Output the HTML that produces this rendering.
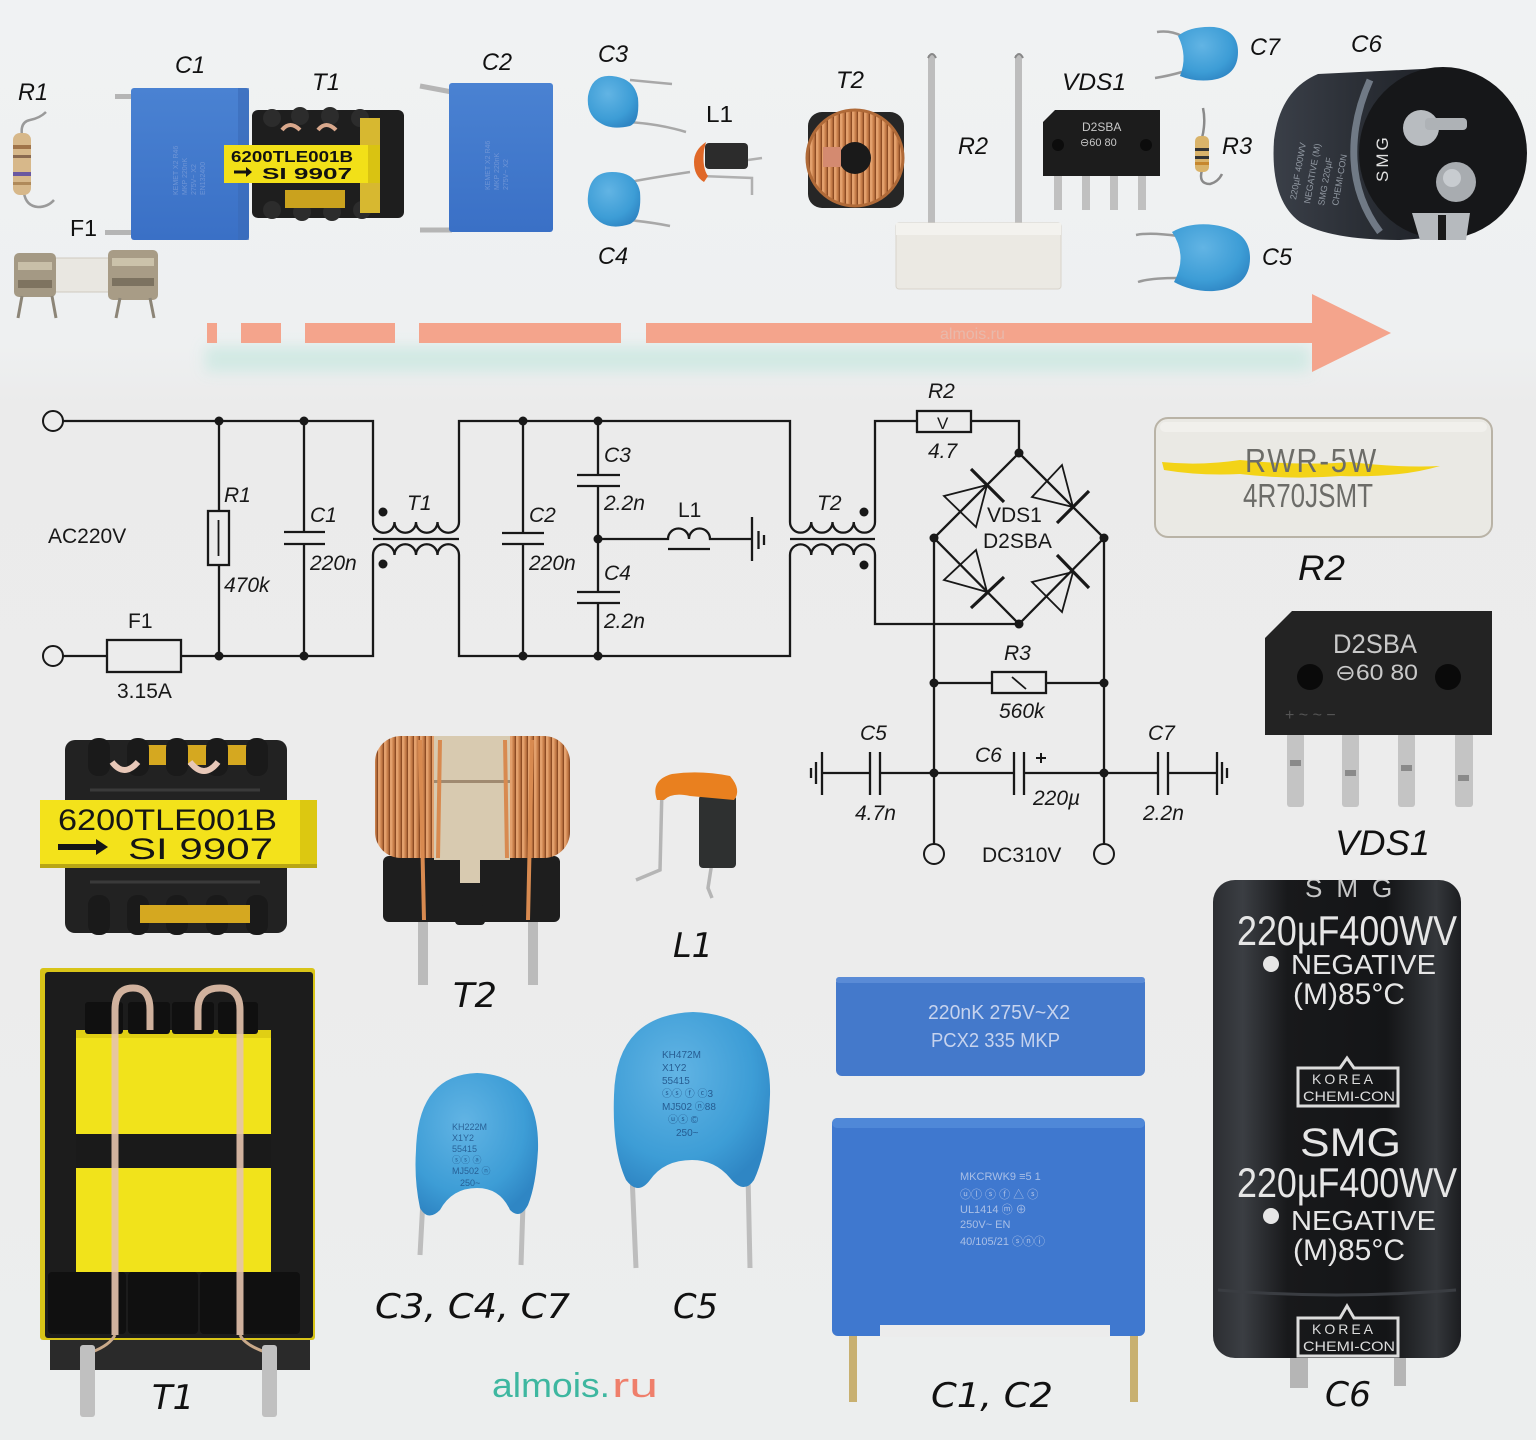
<!DOCTYPE html>
<html><head><meta charset="utf-8">
<style>
html,body{margin:0;padding:0;background:#ececec;}
svg{display:block;}
text{font-family:"Liberation Sans",Arial,sans-serif;}
.s{stroke:#181818;stroke-width:2.3;fill:none;}
.d{fill:#181818;}
.sl{font-size:21px;fill:#181818;}
.si{font-size:21px;fill:#181818;font-style:italic;}
.tl{font-size:24px;fill:#111;font-style:italic;}
.tu{font-size:23px;fill:#111;}
.bl{font-family:"DejaVu Sans","Liberation Sans",sans-serif;font-size:34px;fill:#111;font-style:italic;}
.bla{font-size:35px;fill:#111;font-style:italic;}
.w{fill:#e6e6e6;font-family:"Liberation Sans Narrow","Liberation Sans",sans-serif;}
</style></head><body>
<svg width="1536" height="1440" viewBox="0 0 1536 1440" xmlns="http://www.w3.org/2000/svg">
<defs>
<linearGradient id="bg" x1="0" y1="0" x2="0" y2="1">
 <stop offset="0" stop-color="#f0f2f3"/>
 <stop offset="0.24" stop-color="#eef0f1"/>
 <stop offset="0.28" stop-color="#ebebeb"/>
 <stop offset="0.6" stop-color="#ececec"/>
 <stop offset="1" stop-color="#eceeee"/>
</linearGradient>
<filter id="blur" x="-10%" y="-100%" width="120%" height="300%"><feGaussianBlur stdDeviation="7"/></filter>
<filter id="blur2"><feGaussianBlur stdDeviation="1.2"/></filter>
<radialGradient id="blue" cx="0.4" cy="0.35" r="0.7">
 <stop offset="0" stop-color="#62b4e4"/>
 <stop offset="0.7" stop-color="#3d9dd6"/>
 <stop offset="1" stop-color="#2f86c4"/>
</radialGradient>
<linearGradient id="capblue" x1="0" y1="0" x2="0" y2="1">
 <stop offset="0" stop-color="#4a82d2"/>
 <stop offset="1" stop-color="#3a70c6"/>
</linearGradient>
<linearGradient id="c6g" x1="0" y1="0" x2="1" y2="0">
 <stop offset="0" stop-color="#2c2e32"/>
 <stop offset="0.12" stop-color="#3b3e43"/>
 <stop offset="0.3" stop-color="#18191b"/>
 <stop offset="0.7" stop-color="#141517"/>
 <stop offset="0.9" stop-color="#34373b"/>
 <stop offset="1" stop-color="#1c1d20"/>
</linearGradient>
<linearGradient id="c6t" x1="0" y1="0" x2="1" y2="0">
 <stop offset="0" stop-color="#3a3f48"/>
 <stop offset="0.5" stop-color="#2b2f36"/>
 <stop offset="1" stop-color="#1e2127"/>
</linearGradient>
<pattern id="cu" width="6" height="10" patternUnits="userSpaceOnUse">
 <rect width="6" height="10" fill="#c77e4a"/>
 <rect x="0" width="2.5" height="10" fill="#e3a06c"/>
 <rect x="4.6" width="1.4" height="10" fill="#8d4c24"/>
</pattern>
</defs>

<rect width="1536" height="1440" fill="url(#bg)"/>

<!-- ============ TOP PHOTO STRIP ============ -->
<!-- R1 -->
<path d="M22 135 Q20 122 30 120 Q40 118 46 112" stroke="#9a9a9a" stroke-width="2.5" fill="none"/>
<path d="M24 193 Q26 206 38 207 Q48 207 54 200" stroke="#9a9a9a" stroke-width="2.5" fill="none"/>
<rect x="13" y="133" width="18" height="62" rx="7" fill="#d7b88a"/>
<rect x="13" y="145" width="18" height="4" fill="#a0744a"/>
<rect x="13" y="155" width="18" height="3" fill="#8a6a50"/>
<rect x="13" y="172" width="18" height="4" fill="#6a58a0"/>
<rect x="13" y="182" width="18" height="3" fill="#b08a5a"/>

<!-- F1 -->
<rect x="38" y="258" width="88" height="34" rx="4" fill="#e9e7e1" stroke="#cfcac0"/>
<rect x="14" y="253" width="42" height="44" rx="5" fill="#a49984"/>
<rect x="18" y="262" width="34" height="8" fill="#c8bfa8"/>
<rect x="18" y="280" width="34" height="8" fill="#7e7360"/>
<rect x="108" y="250" width="50" height="50" rx="5" fill="#a89c86"/>
<rect x="112" y="258" width="42" height="8" fill="#cbc2aa"/>
<rect x="112" y="278" width="42" height="8" fill="#7c7260"/>
<path d="M22 296 L18 318 M52 296 L56 318 M120 298 L116 318 M150 298 L154 318" stroke="#8c8577" stroke-width="3"/>

<!-- C1 -->
<rect x="115" y="94" width="20" height="5" fill="#b5b5b5"/>
<rect x="105" y="230" width="30" height="5" fill="#b5b5b5"/>
<rect x="131" y="88" width="118" height="152" rx="3" fill="url(#capblue)"/>
<rect x="238" y="88" width="11" height="152" fill="#3a6ab8" opacity="0.6"/>
<g fill="#6f95d6" font-size="7" transform="translate(178,195) rotate(-90)"><text x="0" y="0">KEMET X2 R46</text><text x="0" y="9">MKP 220nK</text><text x="0" y="18">275V~ X2</text><text x="0" y="27">EN132400</text></g>

<!-- T1 top -->
<rect x="252" y="110" width="152" height="108" rx="6" fill="#1e1e1e"/>
<g fill="#2c2c2c"><circle cx="272" cy="118" r="9"/><circle cx="300" cy="116" r="9"/><circle cx="330" cy="116" r="9"/><circle cx="360" cy="118" r="9"/><circle cx="272" cy="210" r="9"/><circle cx="302" cy="212" r="9"/><circle cx="332" cy="212" r="9"/><circle cx="362" cy="210" r="9"/></g>
<path d="M282 130 q8 -10 18 0 M318 130 q8 -10 18 0" stroke="#d9a88c" stroke-width="4" fill="none"/>
<rect x="360" y="118" width="20" height="95" fill="#d7b830"/>
<rect x="285" y="190" width="60" height="18" fill="#caa21e"/>
<rect x="224" y="145" width="156" height="38" fill="#f2e018"/>
<rect x="368" y="145" width="12" height="38" fill="#d9c312"/>
<text x="231" y="162" font-size="16" font-family="Liberation Mono,monospace" font-weight="bold" fill="#111" textLength="122" lengthAdjust="spacingAndGlyphs">6200TLE001B</text>
<path d="M234 172 h14" stroke="#111" stroke-width="3"/><path d="M246 167 l6 5 l-6 5z" fill="#111"/>
<text x="262" y="179" font-size="16" font-family="Liberation Mono,monospace" font-weight="bold" fill="#111" textLength="90" lengthAdjust="spacingAndGlyphs">SI 9907</text>

<!-- C2 -->
<path d="M420 86 L452 92 M420 230 L452 230" stroke="#b5b5b5" stroke-width="5"/>
<rect x="449" y="83" width="104" height="149" rx="3" fill="url(#capblue)"/>
<g fill="#6f95d6" font-size="7" transform="translate(490,190) rotate(-90)"><text x="0" y="0">KEMET X2 R46</text><text x="0" y="9">MKP 220nK</text><text x="0" y="18">275V~ X2</text></g>

<!-- C3, C4 (top) -->
<path d="M630 80 Q650 82 672 84 M628 122 Q660 124 686 132" stroke="#a8a8a8" stroke-width="2.5" fill="none"/>
<path d="M588 96 Q592 74 612 76 Q634 78 638 98 Q640 122 630 126 Q612 130 602 124 Q586 116 588 96z" fill="url(#blue)"/>
<path d="M630 182 Q650 178 690 172 M628 220 Q650 222 670 226" stroke="#a8a8a8" stroke-width="2.5" fill="none"/>
<path d="M588 196 Q590 172 612 172 Q636 172 640 192 Q642 218 630 224 Q612 230 600 222 Q586 212 588 196z" fill="url(#blue)"/>

<!-- L1 (top) -->
<path d="M701 176 L752 178 L752 195" stroke="#b0b0b0" stroke-width="2.5" fill="none"/>
<rect x="705" y="143" width="43" height="26" rx="4" fill="#2c2c2c"/>
<path d="M748 160 L762 158" stroke="#b0b0b0" stroke-width="2.5"/>
<path d="M706 142 Q694 150 694 162 Q694 176 704 182 L708 176 Q702 168 704 150z" fill="#e06828"/>

<!-- T2 toroid (top) -->
<rect x="808" y="112" width="96" height="96" rx="14" fill="#262626"/>
<circle cx="855" cy="158" r="48" fill="url(#cu)"/>
<circle cx="855" cy="158" r="48" fill="none" stroke="#b06a38" stroke-width="3"/>
<circle cx="855" cy="158" r="16" fill="#1a1a1a"/>
<rect x="823" y="147" width="18" height="20" fill="#d48a70"/>

<!-- R2 (top) -->
<rect x="928" y="55" width="7" height="172" fill="#bdbdbd"/>
<rect x="1015" y="55" width="7" height="172" fill="#bdbdbd"/>
<path d="M928 58 q4 -8 8 0 M1015 58 q4 -8 8 0" stroke="#888" stroke-width="2" fill="none"/>
<rect x="896" y="223" width="165" height="66" rx="3" fill="#ebe9e3" stroke="#d8d4cb"/>
<rect x="896" y="223" width="165" height="12" fill="#f3f2ee"/>

<!-- VDS1 (top) -->
<g fill="#c0c0c0"><rect x="1054" y="174" width="8" height="36"/><rect x="1082" y="174" width="8" height="36"/><rect x="1110" y="174" width="8" height="36"/><rect x="1138" y="174" width="8" height="36"/></g>
<path d="M1055 110 L1160 110 L1160 176 L1043 176 L1043 122z" fill="#1c1c1c"/>
<circle cx="1058" cy="145" r="6" fill="#0c0c0c"/><circle cx="1146" cy="145" r="6" fill="#0c0c0c"/>
<text x="1082" y="131" font-size="12" fill="#c8c8c8" font-family="Liberation Mono,monospace">D2SBA</text>
<text x="1080" y="146" font-size="11" fill="#c8c8c8" font-family="Liberation Mono,monospace">⊖60 80</text>

<!-- R3 (top) -->
<path d="M1203 108 Q1206 122 1202 138 M1202 170 Q1198 184 1210 184 Q1218 182 1222 174" stroke="#8a8a8a" stroke-width="2.5" fill="none"/>
<rect x="1195" y="136" width="14" height="36" rx="5" fill="#d9b36a"/>
<rect x="1195" y="148" width="14" height="3" fill="#333"/><rect x="1195" y="156" width="14" height="3" fill="#333"/><rect x="1195" y="162" width="14" height="3" fill="#c6872e"/>

<!-- C7 (top) -->
<path d="M1157 32 Q1170 30 1182 36 M1155 78 Q1168 76 1182 72" stroke="#9a9a9a" stroke-width="2.5" fill="none"/>
<path d="M1178 36 Q1190 26 1214 27 Q1238 30 1238 52 Q1238 76 1212 80 Q1194 82 1180 76 Q1188 56 1178 36z" fill="url(#blue)"/>

<!-- C5 (top) -->
<path d="M1136 235 Q1150 232 1178 236 M1138 282 Q1150 278 1178 278" stroke="#9a9a9a" stroke-width="2.5" fill="none"/>
<path d="M1172 232 Q1190 222 1214 225 Q1250 230 1250 258 Q1250 288 1214 291 Q1192 292 1174 282 Q1188 256 1172 232z" fill="url(#blue)"/>

<!-- C6 (top view) -->
<path d="M1318 74 Q1280 90 1274 140 Q1270 200 1300 222 Q1330 240 1400 240 L1443 237 L1443 68 Z" fill="url(#c6t)"/>
<ellipse cx="1443" cy="153" rx="84" ry="86" fill="#161719"/>
<path d="M1370 80 Q1352 120 1354 160 Q1356 200 1380 232" stroke="#8e9aa8" stroke-width="7" fill="none" opacity="0.7"/>
<g fill="#a9b1bb" font-size="9" opacity="0.8"><text transform="translate(1296,200) rotate(-80)">220µF 400WV</text><text transform="translate(1310,204) rotate(-80)">NEGATIVE (M)</text><text transform="translate(1324,206) rotate(-80)">SMG 220µF</text><text transform="translate(1338,206) rotate(-80)">CHEMI-CON</text></g>
<text transform="translate(1388,182) rotate(-90)" font-size="17" fill="#e0e0e0" letter-spacing="3">SMG</text>
<circle cx="1421" cy="128" r="18" fill="#b8bcc0"/><rect x="1425" y="118" width="42" height="12" rx="4" fill="#aeb2b6"/>
<circle cx="1456" cy="182" r="20" fill="#a8acb0"/><circle cx="1452" cy="178" r="9" fill="#c8ccd0"/>
<path d="M1412 213 L1470 213 L1466 240 L1420 240z" fill="#b6babe"/>
<rect x="1438" y="215" width="8" height="25" fill="#1a1a1a"/>

<!-- Top labels -->
<text class="tl" x="18" y="100" textLength="30" lengthAdjust="spacingAndGlyphs">R1</text>
<text class="tl" x="175" y="73" textLength="30" lengthAdjust="spacingAndGlyphs">C1</text>
<text class="tl" x="312" y="90" textLength="28" lengthAdjust="spacingAndGlyphs">T1</text>
<text class="tl" x="482" y="70" textLength="30" lengthAdjust="spacingAndGlyphs">C2</text>
<text class="tl" x="598" y="62" textLength="30" lengthAdjust="spacingAndGlyphs">C3</text>
<text class="tu" x="706" y="122" textLength="27" lengthAdjust="spacingAndGlyphs">L1</text>
<text class="tu" x="70" y="236" textLength="27" lengthAdjust="spacingAndGlyphs">F1</text>
<text class="tl" x="598" y="264" textLength="30" lengthAdjust="spacingAndGlyphs">C4</text>
<text class="tl" x="836" y="88" textLength="28" lengthAdjust="spacingAndGlyphs">T2</text>
<text class="tl" x="958" y="154" textLength="30" lengthAdjust="spacingAndGlyphs">R2</text>
<text class="tl" x="1062" y="90" textLength="64" lengthAdjust="spacingAndGlyphs">VDS1</text>
<text class="tl" x="1250" y="55" textLength="30" lengthAdjust="spacingAndGlyphs">C7</text>
<text class="tl" x="1351" y="52" textLength="31" lengthAdjust="spacingAndGlyphs">C6</text>
<text class="tl" x="1222" y="154" textLength="30" lengthAdjust="spacingAndGlyphs">R3</text>
<text class="tl" x="1262" y="265" textLength="30" lengthAdjust="spacingAndGlyphs">C5</text>

<!-- Arrow -->
<rect x="205" y="346" width="1105" height="26" fill="#cfe9e3" filter="url(#blur)" opacity="0.9"/>
<g fill="#f4a48c">
<rect x="207" y="323" width="10" height="20"/>
<rect x="241" y="323" width="40" height="20"/>
<rect x="305" y="323" width="90" height="20"/>
<rect x="419" y="323" width="202" height="20"/>
<rect x="646" y="323" width="668" height="20"/>
<polygon points="1312,294 1391,333 1312,372"/>
</g>
<text x="940" y="339" font-size="16" fill="#e8b9ab">almois.ru</text>

<!-- ============ SCHEMATIC ============ -->
<g class="s">
<!-- rails left -->
<path d="M63 421 H373 V522"/>
<path d="M63 656 H107 M181 656 H373 V555"/>
<rect x="107" y="640" width="74" height="32"/>
<path d="M219 421 V511 M219 565 V656"/>
<rect x="208" y="511" width="21" height="54"/>
<path d="M218.5 520 V556" stroke-width="1.8"/>
<path d="M304 421 V532 M304 544 V656"/>
<path d="M284 532 H325 M284 544 H325"/>
<!-- T1 -->
<path d="M373 522 a10.75 10.75 0 0 0 21.5 0 a10.75 10.75 0 0 0 21.5 0 a10.75 10.75 0 0 0 21.5 0 a10.75 10.75 0 0 0 21.5 0"/>
<path d="M373 555 a10.75 10.75 0 0 1 21.5 0 a10.75 10.75 0 0 1 21.5 0 a10.75 10.75 0 0 1 21.5 0 a10.75 10.75 0 0 1 21.5 0"/>
<path d="M373 539 H459"/>
<path d="M459 522 V421 H790 V522"/>
<path d="M459 555 V656 H790 V555"/>
<!-- C2 -->
<path d="M523 421 V533 M523 544 V656 M502 533 H544 M502 544 H544"/>
<!-- C3 C4 -->
<path d="M598 421 V475 M598 486 V592 M598 603 V656"/>
<path d="M577 475 H620 M577 486 H620 M577 592 H620 M577 603 H620"/>
<!-- L1 -->
<path d="M598 539 H668 a10.5 10.5 0 0 1 21 0 a10.5 10.5 0 0 1 21 0 H752"/>
<path d="M668 549 H710"/>
<path d="M752 517 V561 M758.5 531 V549 M764 535 V545"/>
<!-- T2 -->
<path d="M790 522 a10.6 10.6 0 0 0 21.25 0 a10.6 10.6 0 0 0 21.25 0 a10.6 10.6 0 0 0 21.25 0 a10.6 10.6 0 0 0 21.25 0"/>
<path d="M790 555 a10.6 10.6 0 0 1 21.25 0 a10.6 10.6 0 0 1 21.25 0 a10.6 10.6 0 0 1 21.25 0 a10.6 10.6 0 0 1 21.25 0"/>
<path d="M790 539 H875"/>
<path d="M875 522 V421 H917 M971 421 H1019 V453"/>
<rect x="917" y="411" width="54" height="21"/>
<path d="M875 555 V624 H1019"/>
<!-- bridge -->
<path d="M1019 453 L934 538 L1019 624 L1104 538 Z"/>
<!-- diodes -->
<path d="M944 496 L987 485 L976 527 Z" stroke-width="1.8"/>
<path d="M971 469 L1004 502" stroke-width="3.2"/>
<path d="M1032 497 L1073 507 L1062 465 Z" stroke-width="1.8"/>
<path d="M1057 523 L1089 491" stroke-width="3.2"/>
<path d="M944 580 L987 592 L976 550 Z" stroke-width="1.8"/>
<path d="M971 608 L1004 577" stroke-width="3.2"/>
<path d="M1032 582 L1073 572 L1062 612 Z" stroke-width="1.8"/>
<path d="M1057 555 L1089 588" stroke-width="3.2"/>
<!-- DC side -->
<path d="M934 538 V845 M1104 538 V845"/>
<path d="M934 683 H992 M1046 683 H1104"/>
<rect x="992" y="672" width="54" height="21"/>
<path d="M1012 677 L1026 689" stroke-width="1.8"/>
<path d="M822 773 H870 M880 773 H1014 M1024 773 H1158 M1168 773 H1217"/>
<path d="M870 752 V795 M880 752 V795 M1014 752 V795 M1024 752 V795 M1158 752 V795 M1168 752 V795"/>
<path d="M822 752 V795 M816 762 V784 M811 768 V778"/>
<path d="M1217 752 V795 M1222 762 V784 M1227 768 V778"/>
<path d="M1036 758 H1046 M1041 753 V763" stroke-width="2"/>
</g>
<g fill="none" stroke="#181818" stroke-width="2">
<circle cx="53" cy="421" r="10"/><circle cx="53" cy="656" r="10"/>
<circle cx="934" cy="854" r="10"/><circle cx="1104" cy="854" r="10"/>
</g>
<g class="d">
<circle cx="219" cy="421" r="4.5"/><circle cx="304" cy="421" r="4.5"/><circle cx="219" cy="656" r="4.5"/><circle cx="304" cy="656" r="4.5"/>
<circle cx="523" cy="421" r="4.5"/><circle cx="598" cy="421" r="4.5"/><circle cx="523" cy="656" r="4.5"/><circle cx="598" cy="656" r="4.5"/>
<circle cx="598" cy="539" r="4.5"/>
<circle cx="383" cy="512" r="4.5"/><circle cx="383" cy="564" r="4.5"/>
<circle cx="864" cy="512" r="4.5"/><circle cx="864" cy="565" r="4.5"/>
<circle cx="1019" cy="453" r="4.5"/><circle cx="1019" cy="624" r="4.5"/><circle cx="934" cy="538" r="4.5"/><circle cx="1104" cy="538" r="4.5"/>
<circle cx="934" cy="683" r="4.5"/><circle cx="1104" cy="683" r="4.5"/><circle cx="934" cy="773" r="4.5"/><circle cx="1104" cy="773" r="4.5"/>
</g>
<text class="sl" x="48" y="543">AC220V</text>
<text class="si" x="224" y="502">R1</text>
<text class="si" x="224" y="592">470k</text>
<text class="si" x="310" y="522">C1</text>
<text class="si" x="310" y="570">220n</text>
<text class="sl" x="128" y="628">F1</text>
<text class="sl" x="117" y="698">3.15A</text>
<text class="si" x="407" y="510">T1</text>
<text class="si" x="529" y="522">C2</text>
<text class="si" x="529" y="570">220n</text>
<text class="si" x="604" y="462">C3</text>
<text class="si" x="604" y="510">2.2n</text>
<text class="si" x="604" y="580">C4</text>
<text class="si" x="604" y="628">2.2n</text>
<text class="sl" x="678" y="517">L1</text>
<text class="si" x="817" y="510">T2</text>
<text class="si" x="928" y="398">R2</text>
<text x="937" y="429" font-size="17" fill="#181818">V</text>
<text class="si" x="928" y="458">4.7</text>
<text class="sl" x="987" y="522">VDS1</text>
<text class="sl" x="983" y="548">D2SBA</text>
<text class="si" x="1004" y="660">R3</text>
<text class="si" x="999" y="718">560k</text>
<text class="si" x="860" y="740">C5</text>
<text class="si" x="855" y="820">4.7n</text>
<text class="si" x="975" y="762">C6</text>
<text class="si" x="1033" y="805">220µ</text>
<text class="si" x="1148" y="740">C7</text>
<text class="si" x="1143" y="820">2.2n</text>
<text class="sl" x="982" y="862">DC310V</text>

<!-- ============ BOTTOM PHOTOS ============ -->
<!-- R2 photo -->
<rect x="1155" y="418" width="337" height="119" rx="13" fill="#eae9e4" stroke="#b9b3a6" stroke-width="2"/>
<rect x="1160" y="422" width="327" height="10" rx="5" fill="#f1f0ec"/>
<path d="M1162 462 Q1200 466 1240 460 Q1300 466 1350 462 Q1400 468 1440 466 Q1400 478 1340 476 Q1290 480 1240 474 Q1200 476 1164 470z" fill="#f3d317"/>
<text x="1245" y="472" font-size="33" fill="#6c6c68" textLength="133" lengthAdjust="spacingAndGlyphs" letter-spacing="2">RWR-5W</text>
<text x="1243" y="507" font-size="33" fill="#6c6c68" textLength="130" lengthAdjust="spacingAndGlyphs">4R70JSMT</text>
<text class="bla" x="1298" y="580" textLength="47" lengthAdjust="spacingAndGlyphs">R2</text>

<!-- VDS1 photo -->
<g fill="#c4c4c4">
<rect x="1287" y="733" width="17" height="74" rx="3"/><rect x="1342" y="733" width="17" height="74" rx="3"/>
<rect x="1398" y="733" width="17" height="74" rx="3"/><rect x="1455" y="733" width="18" height="74" rx="3"/>
</g>
<g fill="#8a8a8a"><rect x="1290" y="760" width="11" height="6"/><rect x="1345" y="770" width="11" height="6"/><rect x="1401" y="765" width="11" height="6"/><rect x="1458" y="775" width="11" height="6"/></g>
<path d="M1292 611 L1492 611 L1492 735 L1265 735 L1265 638 Z" fill="#232323"/>
<circle cx="1310" cy="677" r="13" fill="#0a0a0a"/><circle cx="1448" cy="677" r="13" fill="#0a0a0a"/>
<text x="1333" y="653" font-size="27" fill="#c9c9c9" font-family="Liberation Mono,monospace" textLength="84" lengthAdjust="spacingAndGlyphs">D2SBA</text>
<text x="1335" y="680" font-size="22" fill="#c9c9c9" font-family="Liberation Mono,monospace" textLength="83" lengthAdjust="spacingAndGlyphs">⊖60 80</text>
<text x="1285" y="720" font-size="16" fill="#555">+      ~       ~      −</text>
<text class="bla" x="1335" y="855" textLength="95" lengthAdjust="spacingAndGlyphs">VDS1</text>

<!-- T1 top photo -->
<rect x="65" y="740" width="222" height="193" rx="10" fill="#222"/>
<rect x="140" y="745" width="115" height="20" fill="#d5a820"/>
<g fill="#1a1a1a"><rect x="88" y="738" width="22" height="38" rx="10"/><rect x="127" y="738" width="22" height="38" rx="10"/><rect x="166" y="738" width="22" height="38" rx="10"/><rect x="206" y="738" width="22" height="38" rx="10"/><rect x="246" y="738" width="22" height="38" rx="10"/>
<rect x="88" y="895" width="22" height="40" rx="10"/><rect x="127" y="895" width="22" height="40" rx="10"/><rect x="166" y="895" width="22" height="40" rx="10"/><rect x="206" y="895" width="22" height="40" rx="10"/><rect x="246" y="895" width="22" height="40" rx="10"/></g>
<path d="M112 762 Q124 778 138 762 M190 762 Q204 780 218 762" stroke="#e8c8b8" stroke-width="6" fill="none"/>
<rect x="140" y="905" width="110" height="18" fill="#d5a820"/>
<path d="M90 790 H260 M90 882 H260" stroke="#3a3a3a" stroke-width="3"/>
<rect x="40" y="800" width="277" height="68" fill="#f3e21b"/>
<rect x="300" y="800" width="17" height="68" fill="#dcc811"/>
<rect x="40" y="864" width="277" height="4" fill="#b8a614"/>
<text x="58" y="830" font-size="30" fill="#151515" font-family="Liberation Mono,monospace" textLength="219" lengthAdjust="spacingAndGlyphs">6200TLE001B</text>
<path d="M58 847 H98" stroke="#151515" stroke-width="6"/><path d="M96 839 L108 847 L96 855z" fill="#151515"/>
<text x="128" y="859" font-size="30" fill="#151515" font-family="Liberation Mono,monospace" textLength="145" lengthAdjust="spacingAndGlyphs">SI 9907</text>

<!-- T1 bottom photo -->
<rect x="40" y="968" width="275" height="372" rx="3" fill="#d8c418"/>
<rect x="45" y="972" width="268" height="366" rx="3" fill="#1c1c1c"/>
<rect x="76" y="1030" width="195" height="104" fill="#f1e31b"/>
<rect x="76" y="1168" width="195" height="104" fill="#f1e31b"/>
<rect x="76" y="1030" width="195" height="8" fill="#e0cf14"/>
<rect x="76" y="1134" width="195" height="34" fill="#1a1a1a"/>
<g fill="#101010"><rect x="85" y="1002" width="38" height="32" rx="3"/><rect x="128" y="1002" width="42" height="32" rx="3"/><rect x="172" y="1002" width="42" height="32" rx="3"/><rect x="218" y="1002" width="40" height="32" rx="3"/>
<rect x="48" y="1272" width="78" height="62" rx="4"/><rect x="128" y="1272" width="70" height="62" rx="4"/><rect x="200" y="1272" width="100" height="62" rx="4"/></g>
<rect x="50" y="1340" width="260" height="30" fill="#2a2a2a"/>
<path d="M115 1335 V1010 Q115 988 133 988 Q150 988 150 1010 V1030 M240 1335 V1010 Q240 988 220 988 Q198 988 198 1010 V1030" stroke="#e6c3ad" stroke-width="7" fill="none" opacity="0.9"/>
<path d="M115 1335 Q110 1345 92 1352 M240 1335 Q245 1345 265 1352" stroke="#c9a98a" stroke-width="3" fill="none"/>
<rect x="80" y="1345" width="15" height="72" rx="3" fill="#c0c0c0"/>
<rect x="262" y="1345" width="15" height="72" rx="3" fill="#c0c0c0"/>
<text class="bl" x="152" y="1409" textLength="42" lengthAdjust="spacingAndGlyphs">T1</text>

<!-- T2 bottom photo -->
<rect x="418" y="915" width="10" height="70" fill="#bbb"/><rect x="528" y="915" width="10" height="70" fill="#bbb"/>
<rect x="383" y="856" width="177" height="66" rx="6" fill="#1e1e1e"/>
<rect x="455" y="905" width="30" height="20" rx="4" fill="#1e1e1e"/>
<rect x="375" y="736" width="195" height="122" rx="26" fill="url(#cu)"/>
<rect x="434" y="736" width="76" height="124" fill="#d8cab0"/>
<rect x="434" y="780" width="76" height="3" fill="#a08a70"/>
<rect x="460" y="855" width="20" height="28" fill="#d8cab0"/>
<path d="M420 740 L424 920 M532 740 L528 920 M440 740 L438 858 M505 740 L507 858" stroke="#d88a50" stroke-width="4" fill="none"/>
<text class="bl" x="453" y="1007" textLength="44" lengthAdjust="spacingAndGlyphs">T2</text>

<!-- L1 bottom photo -->
<path d="M662 788 L660 870 L636 880 M712 862 L708 888 L712 898" stroke="#b5b5b5" stroke-width="3.5" fill="none"/>
<rect x="699" y="795" width="37" height="73" rx="4" fill="#2e3030"/>
<path d="M657 800 Q650 780 672 774 Q700 770 730 776 Q742 790 734 800 Q712 798 690 796 Q672 792 664 800z" fill="#e9801f"/>
<text class="bl" x="673" y="957" textLength="40" lengthAdjust="spacingAndGlyphs">L1</text>

<!-- C3 C4 C7 disc -->
<path d="M423 1200 L420 1255 M523 1205 L521 1265" stroke="#bdbdbd" stroke-width="5"/>
<path d="M477 1073 Q540 1075 538 1150 Q536 1185 528 1205 Q520 1220 510 1210 Q500 1188 477 1188 Q452 1188 440 1210 Q428 1222 420 1208 Q414 1180 416 1150 Q418 1075 477 1073z" fill="url(#blue)"/>
<g fill="#1e4f85" font-size="9" opacity="0.8"><text x="452" y="1130">KH222M</text><text x="452" y="1141">X1Y2</text><text x="452" y="1152">55415</text><text x="452" y="1163">ⓢⓢ ⓐ</text><text x="452" y="1174">MJ502 ⓝ</text><text x="460" y="1186">250~</text></g>
<text class="bl" x="375" y="1318" textLength="195" lengthAdjust="spacingAndGlyphs">C3, C4, C7</text>

<!-- C5 disc -->
<path d="M632 1175 L636 1268 M748 1175 L750 1268" stroke="#bdbdbd" stroke-width="5"/>
<path d="M693 1012 Q772 1015 770 1095 Q768 1150 754 1180 Q744 1195 730 1178 Q715 1160 692 1160 Q664 1160 650 1180 Q638 1196 626 1180 Q612 1150 614 1095 Q616 1015 693 1012z" fill="url(#blue)"/>
<g fill="#1e4f85" font-size="10" opacity="0.85"><text x="662" y="1058">KH472M</text><text x="662" y="1071">X1Y2</text><text x="662" y="1084">55415</text><text x="662" y="1097">ⓢⓢ ⓕ ⓒ3</text><text x="662" y="1110">MJ502 ⓝ88</text><text x="668" y="1123">ⓤⓢ ©</text><text x="676" y="1136">250~</text></g>
<text class="bl" x="673" y="1318" textLength="45" lengthAdjust="spacingAndGlyphs">C5</text>

<text x="492" y="1397" font-size="34" fill="#3eb7a0" textLength="118" lengthAdjust="spacingAndGlyphs" font-family="DejaVu Sans,Liberation Sans,sans-serif">almois.</text>
<text x="612" y="1397" font-size="34" fill="#ef7f6b" textLength="46" lengthAdjust="spacingAndGlyphs" font-family="DejaVu Sans,Liberation Sans,sans-serif">ru</text>

<!-- C1/C2 side photo -->
<rect x="836" y="977" width="309" height="99" rx="6" fill="#4479cb"/>
<rect x="836" y="977" width="309" height="6" rx="3" fill="#5a8bd6"/>
<text x="928" y="1019" font-size="20" fill="#c6d3ee" textLength="142" lengthAdjust="spacingAndGlyphs">220nK 275V~X2</text>
<text x="931" y="1047" font-size="20" fill="#c6d3ee" textLength="129" lengthAdjust="spacingAndGlyphs">PCX2  335   MKP</text>

<!-- C1/C2 front photo -->
<rect x="849" y="1330" width="8" height="72" fill="#c8b070"/><rect x="1130" y="1330" width="8" height="72" fill="#c8b070"/>
<rect x="832" y="1118" width="313" height="218" rx="6" fill="#3f78cf"/>
<rect x="832" y="1118" width="313" height="10" rx="5" fill="#4f88d8"/>
<rect x="880" y="1325" width="230" height="12" fill="#ececec"/>
<g fill="#a9bfe6" font-size="11"><text x="960" y="1180">MKCRWK9 ≡5 1</text><text x="960" y="1198">ⓤⓛ ⓢ ⓕ △ ⓢ</text><text x="960" y="1213">UL1414 ⓜ  ⊕</text><text x="960" y="1228">250V~  EN</text><text x="960" y="1245">40/105/21 ⓢⓝⓘ</text></g>
<text class="bl" x="931" y="1407" textLength="122" lengthAdjust="spacingAndGlyphs">C1, C2</text>

<!-- C6 bottom photo -->
<rect x="1290" y="1350" width="18" height="38" fill="#b5b5b5"/><rect x="1394" y="1350" width="12" height="36" fill="#b5b5b5"/>
<rect x="1213" y="880" width="248" height="478" rx="22" fill="url(#c6g)"/>
<path d="M1218 1290 Q1336 1300 1456 1290" stroke="#3a3d42" stroke-width="3" fill="none"/>
<g class="w">
<text x="1305" y="897" font-size="26" letter-spacing="14" opacity="0.85">SMG</text>
<text x="1237" y="945" font-size="42" textLength="220" lengthAdjust="spacingAndGlyphs">220µF400WV</text>
<circle cx="1271" cy="964" r="8"/>
<text x="1291" y="974" font-size="28" textLength="145" lengthAdjust="spacingAndGlyphs">NEGATIVE</text>
<text x="1293" y="1004" font-size="30" textLength="112" lengthAdjust="spacingAndGlyphs">(M)85°C</text>
<text x="1300" y="1156" font-size="40" textLength="101" lengthAdjust="spacingAndGlyphs">SMG</text>
<text x="1237" y="1197" font-size="42" textLength="220" lengthAdjust="spacingAndGlyphs">220µF400WV</text>
<circle cx="1271" cy="1216" r="8"/>
<text x="1291" y="1230" font-size="28" textLength="145" lengthAdjust="spacingAndGlyphs">NEGATIVE</text>
<text x="1293" y="1260" font-size="30" textLength="112" lengthAdjust="spacingAndGlyphs">(M)85°C</text>
</g>
<g fill="none" stroke="#dcdcdc" stroke-width="3">
<path d="M1298 1068 H1340 L1347 1058 L1354 1068 H1398 V1106 H1298 Z"/>
<path d="M1298 1318 H1340 L1347 1306 L1354 1318 H1398 V1356 H1298 Z"/>
</g>
<g fill="#dcdcdc" font-size="14"><text x="1312" y="1084" letter-spacing="3">KOREA</text><text x="1303" y="1101" textLength="92" lengthAdjust="spacingAndGlyphs">CHEMI-CON</text>
<text x="1312" y="1334" letter-spacing="3">KOREA</text><text x="1303" y="1351" textLength="92" lengthAdjust="spacingAndGlyphs">CHEMI-CON</text></g>
<text class="bl" x="1325" y="1406" textLength="46" lengthAdjust="spacingAndGlyphs">C6</text>
</svg>
</body></html>
